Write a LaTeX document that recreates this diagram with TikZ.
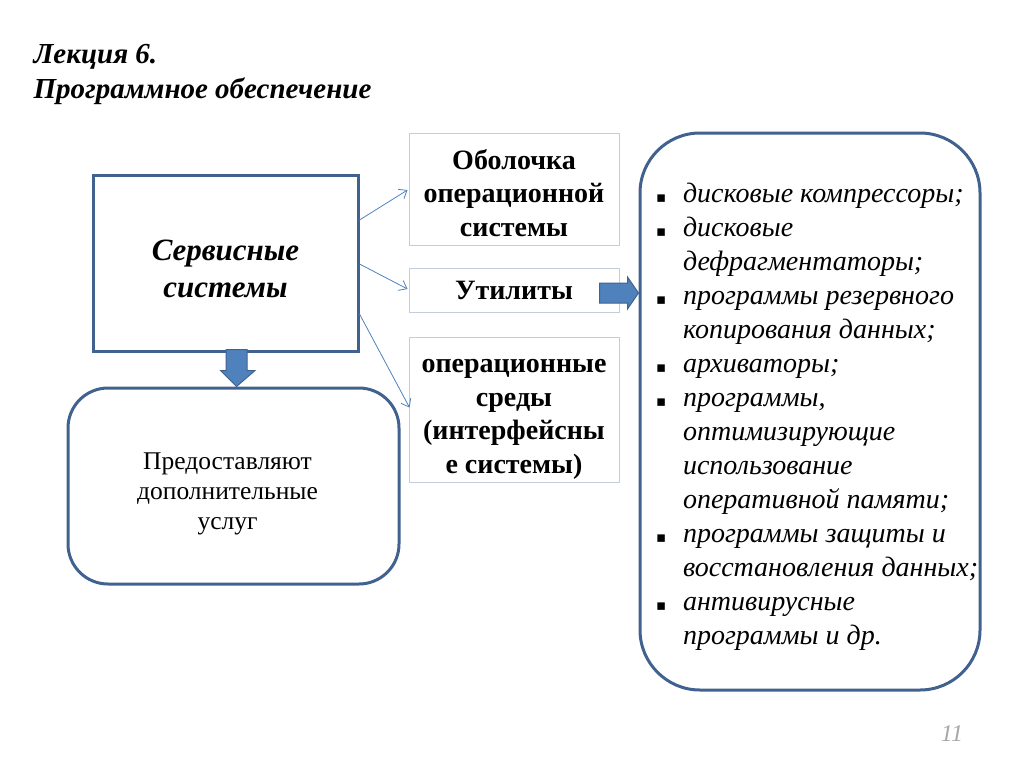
\documentclass[tikz,border=0pt]{standalone}
\usepackage{fontspec}
\setmainfont{Liberation Serif}
\newfontfamily\symfont{DejaVu Sans}
\usetikzlibrary{positioning,calc,arrows.meta}

\definecolor{frameblue}{HTML}{41628F}
\definecolor{arrowblue}{HTML}{4F81BD}
\definecolor{lightframe}{HTML}{C3CEDD}

\newcommand{\itm}[1]{\mbox{\makebox[27pt][l]{\symfont\fontsize{15pt}{15pt}\selectfont ▪}#1}}
\newcommand{\cnt}[1]{\mbox{\hspace*{27pt}#1}}

\begin{document}
\begin{tikzpicture}[x=1pt,y=-1pt,
    mainbox/.style={draw=frameblue,line width=3pt,fill=white},
    roundbox/.style={mainbox,rounded corners=#1},
    kindbox/.style={draw=lightframe,line width=1pt,minimum width=210pt},
    kindtext/.style={align=center,font=\fontsize{28pt}{33.5pt}\selectfont\bfseries},
    link/.style={draw=arrowblue,line width=0.8pt,-{Straight Barb[length=7pt,width=11pt]}},
    blockarrow/.style={fill=arrowblue,draw=frameblue,line width=1pt,line join=miter}]
  \useasboundingbox (0,0) rectangle (1024,768);
  % title
  \node[anchor=west,font=\fontsize{29pt}{35pt}\selectfont\bfseries\itshape,align=left]
    (title) at (30,74) {Лекция 6.\\Программное  обеспечение};
  % left part
  \node[mainbox,minimum width=265pt,minimum height=176pt] (serv) at (225.5,263) {};
  \node[align=center,font=\fontsize{31pt}{37pt}\selectfont\bfseries\itshape]
    (servtext) at ($(serv.center)+(0,6)$) {Сервисные\\системы};
  \node[roundbox=40pt,minimum width=331pt,minimum height=196pt] (offer) at (233.5,486) {};
  \node[align=center,font=\fontsize{25.5pt}{30pt}\selectfont]
    (offertext) at ($(offer.center)+(-6,8)$) {Предоставляют\\дополнительные\\услуг};
  % kinds of service systems
  \node[kindbox,minimum height=112pt] (shell) at (514,189) {};
  \node[kindtext] (shelltext) at ($(shell.center)+(0,4)$) {Оболочка\\операционной\\системы};
  \node[kindbox,minimum height=44pt] (util) at (514,290) {};
  \node[kindtext] (utiltext) at (util.center) {Утилиты};
  \node[kindbox,minimum height=145pt] (env) at (514,409.5) {};
  \node[kindtext] (envtext) at ($(env.center)+(0,10)$) {операционные\\среды\\(интерфейсны\\е системы)};
  % list of utilities
  \node[roundbox=60pt,minimum width=340pt,minimum height=557pt] (tools) at (810,411.5) {};
  \node[anchor=west,align=left,font=\fontsize{28pt}{34pt}\selectfont\itshape]
    (toolstext) at ($(tools.west)+(14,5)$) {%
    \itm{дисковые компрессоры;}\\
    \itm{дисковые}\\
    \cnt{дефрагментаторы;}\\
    \itm{программы резервного}\\
    \cnt{копирования данных;}\\
    \itm{архиваторы;}\\
    \itm{программы,}\\
    \cnt{оптимизирующие}\\
    \cnt{использование}\\
    \cnt{оперативной памяти;}\\
    \itm{программы защиты и}\\
    \cnt{восстановления данных;}\\
    \itm{антивирусные}\\
    \cnt{программы и др.}};
  % connectors
  \draw[link] ($(serv.east)+(0,-43)$) -- ($(shell.west)+(-1,1)$);
  \draw[link] ($(serv.east)+(0,1)$) -- ($(util.west)+(-1,-1)$);
  \draw[link] ($(serv.east)+(0,51)$) -- ($(env.west)+(1,-2)$);
  % block arrows
  \draw[blockarrow] ($(offer.north)+(-7.5,-37)$) -- ++(21,0) -- ++(0,21) -- ++(8,0)
    -- ($(offer.north)+(3,0)$) -- ++(-16,-16) -- ++(5.5,0) -- cycle;
  \draw[blockarrow] ($(util.east)+(-20,-7)$) -- ++(28,0) -- ++(0,-6) -- ($(util.east)+(19,3)$)
    -- ++(-11,16) -- ++(0,-6) -- ++(-28,0) -- cycle;
  % page number
  \node[text=gray!70,font=\fontsize{24pt}{24pt}\selectfont\itshape] (page) at (952,734) {11};
\end{tikzpicture}
\end{document}
